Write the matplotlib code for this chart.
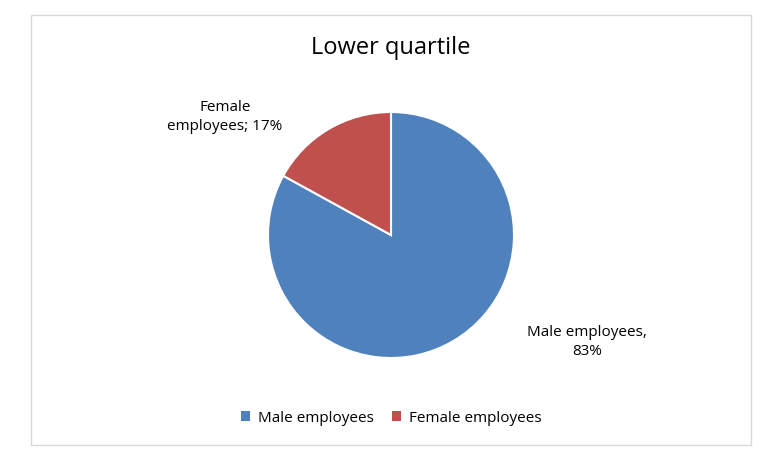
import matplotlib
matplotlib.use("Agg")
from matplotlib import pyplot as plt
from matplotlib.patches import Rectangle, Patch

labels = ["Male employees", "Female employees"]
values = [83, 17]
colors = ["#4F81BD", "#C0504D"]

plt.rcParams["font.family"] = ["Open Sans", "DejaVu Sans"]
fig = plt.figure(figsize=(7.83, 4.61), dpi=100)
fig.patches.append(Rectangle((31 / 783, 16 / 461), 720 / 783, 430 / 461,
                             transform=fig.transFigure, fill=False,
                             edgecolor="#D9D9D9", linewidth=1))

ax = fig.add_axes([(391 - 123) / 783, (461 - 235 - 123) / 461, 246 / 783, 246 / 461])
ax.pie(values, colors=colors, startangle=90, counterclock=False,
       wedgeprops=dict(edgecolor="white", linewidth=1.5))
ax.set_xlim(-1, 1)
ax.set_ylim(-1, 1)
ax.set_aspect("equal")

fig.text(391 / 783, 1 - 48 / 461, "Lower quartile", ha="center", va="center", fontsize=17)
fig.text(225 / 783, 1 - 117 / 461, f"Female\nemployees; {values[1]}%", ha="center",
         va="center", fontsize=11, linespacing=1.4)
fig.text(587 / 783, 1 - 342 / 461, f"Male employees,\n{values[0]}%", ha="center",
         va="center", fontsize=11, linespacing=1.4)

handles = [Patch(facecolor=c, label=l) for c, l in zip(colors, labels)]
fig.legend(handles=handles, loc="center", bbox_to_anchor=(391 / 783, 1 - 418 / 461),
           ncol=2, frameon=False, fontsize=11, handlelength=0.6, handleheight=0.6,
           columnspacing=1.2, handletextpad=0.5)

fig.savefig("out.png", dpi=100)
